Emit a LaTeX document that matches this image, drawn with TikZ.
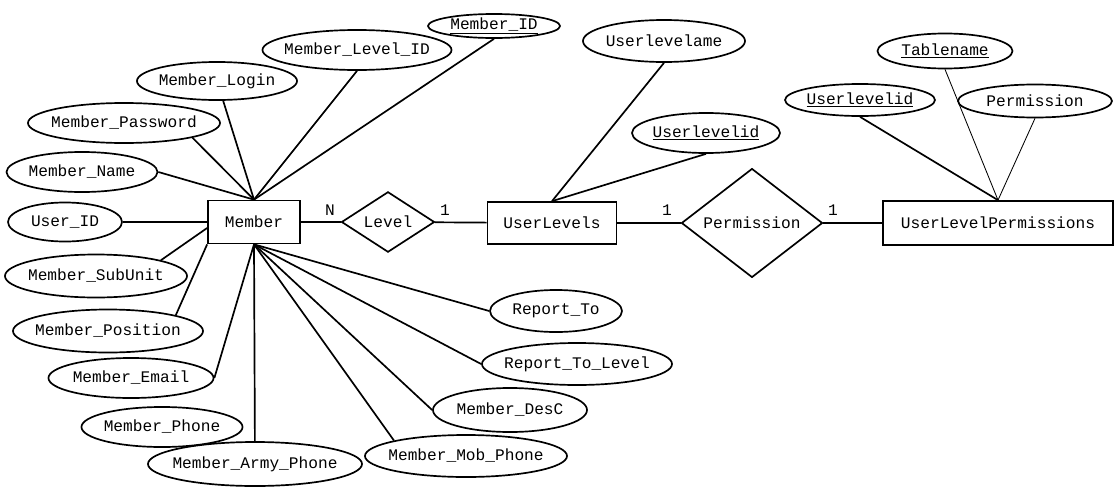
\documentclass[tikz,border=0pt]{standalone}
\usepackage{fontspec}
\setmainfont{Liberation Mono}
\usetikzlibrary{shapes.geometric}

\begin{document}
\begin{tikzpicture}[x=0.025cm,y=-0.025cm,
    every node/.style={font=\fontsize{11.5}{13}\selectfont},
    attr/.style={draw,ellipse,line width=1.2pt,inner xsep=-5pt,inner ysep=0pt},
    entity/.style={draw,rectangle,line width=1.2pt,inner sep=0pt},
    rel/.style={draw,diamond,line width=1.2pt,inner sep=0pt},
    link/.style={line width=1.2pt},
    thinlink/.style={line width=0.6pt}]
        \useasboundingbox (0,0) rectangle (1114,487);

        % Entities and relationships
        \node[entity,minimum width=2.3cm,minimum height=1.075cm] (member) at (254,222) {Member};
        \node[rel,minimum width=2.325cm,minimum height=1.5cm] (level) at (388,222) {Level};
        \node[entity,minimum width=3.225cm,minimum height=1.05cm] (ulevels) at (552,223) {UserLevels};
        \node[rel,minimum width=3.525cm,minimum height=2.4cm] (perm) at (752,223) {Permission};
        \node[entity,minimum width=5.75cm,minimum height=1.1cm] (ulperm) at (998,223) {UserLevelPermissions};

        % Cardinalities
        \node (cardn) at (330,210) {N};
        \node (cardl) at (445,210) {1};
        \node (cardu) at (667,210) {1};
        \node (cardp) at (833,210) {1};

        % Member attributes
        \node[attr,minimum width=3.3cm,minimum height=0.6cm] (mid) at (494,26) {\underline{Member\_ID}};
        \node[attr,minimum width=4.725cm,minimum height=1cm] (mlid) at (357,50) {Member\_Level\_ID};
        \node[attr,minimum width=4cm,minimum height=0.95cm] (mlogin) at (217,81) {Member\_Login};
        \node[attr,minimum width=4.8cm,minimum height=1cm] (mpass) at (124,123) {Member\_Password};
        \node[attr,minimum width=3.775cm,minimum height=1cm] (mname) at (82,172) {Member\_Name};
        \node[attr,minimum width=2.85cm,minimum height=0.975cm] (userid) at (65,222) {User\_ID};
        \node[attr,minimum width=4.55cm,minimum height=1.075cm] (msub) at (96,276) {Member\_SubUnit};
        \node[attr,minimum width=4.75cm,minimum height=1.075cm] (mpos) at (108,331) {Member\_Position};
        \node[attr,minimum width=4.125cm,minimum height=1cm] (memail) at (131,378) {Member\_Email};
        \node[attr,minimum width=4.025cm,minimum height=1cm] (mphone) at (162,427) {Member\_Phone};
        \node[attr,minimum width=5.35cm,minimum height=1.1cm] (marmy) at (255,464) {Member\_Army\_Phone};
        \node[attr,minimum width=5.05cm,minimum height=1.05cm] (mmob) at (466,456) {Member\_Mob\_Phone};
        \node[attr,minimum width=3.85cm,minimum height=1.1cm] (mdesc) at (510,410) {Member\_DesC};
        \node[attr,minimum width=4.75cm,minimum height=1.05cm] (rtlevel) at (577,364) {Report\_To\_Level};
        \node[attr,minimum width=3.3cm,minimum height=1.05cm] (rto) at (556,311) {Report\_To};

        % UserLevels attributes
        \node[attr,minimum width=4.05cm,minimum height=1.05cm] (ulname) at (664,41) {Userlevelame};
        \node[attr,minimum width=3.7cm,minimum height=1cm] (ulid) at (706,133) {\underline{Userlevelid}};

        % UserLevelPermissions attributes
        \node[attr,minimum width=3.75cm,minimum height=0.8cm] (pulid) at (860,100) {\underline{Userlevelid}};
        \node[attr,minimum width=3.375cm,minimum height=0.875cm] (ptable) at (945,51) {\underline{Tablename}};
        \node[attr,minimum width=3.85cm,minimum height=0.825cm] (pperm) at (1035,101) {Permission};

        % Links to Member
        \draw[link] (mid.south) -- (member.north);
        \draw[link] (mlid.south) -- (member.north);
        \draw[link] (mlogin) -- (member.north);
        \draw[link] (mpass.south east) -- (member.north);
        \draw[link] (mname.east) -- (member.north);
        \draw[link] (userid) -- (member.west);
        \draw[link] (msub.north east) -- ([yshift=-0.15cm]member.west);
        \draw[link] (mpos.north east) -- (member.south west);
        \draw[link] (memail.east) -- (member.south);
        \draw[link] (marmy) -- (member.south);
        \draw[link] (mmob.north west) -- (member.south);
        \foreach \a in {mdesc,rtlevel,rto}
          \draw[link] (\a.west) -- (member.south);

        % Links to UserLevels
        \draw[link] (ulname.south) -- (ulevels.north);
        \draw[link] (ulid.south) -- (ulevels.north);

        % Links to UserLevelPermissions
        \draw[link] (pulid.south) -- (ulperm.north);
        \draw[thinlink] (ptable.south) -- (ulperm.north);
        \draw[thinlink] (pperm.south) -- (ulperm.north);

        % Relationships
        \draw[link] (member) -- (level);
        \draw[link] (level) -- (ulevels);
        \draw[link] (ulevels) -- (perm);
        \draw[link] (perm) -- (ulperm);
      \end{tikzpicture}
\end{document}
